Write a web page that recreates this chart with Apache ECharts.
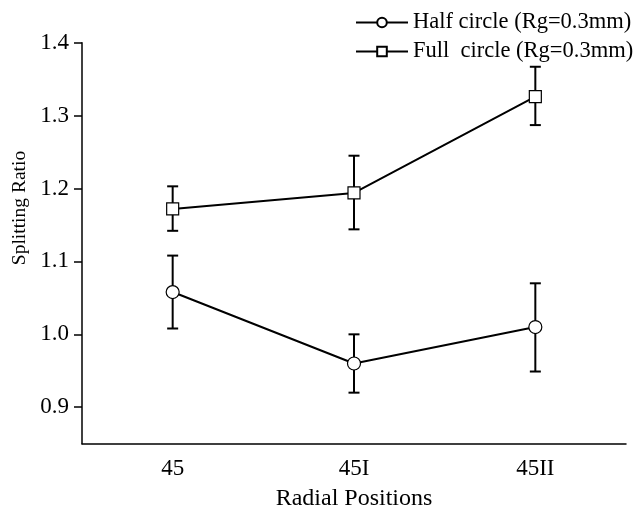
<!DOCTYPE html>
<html>
<head>
<meta charset="utf-8">
<script src="https://cdn.jsdelivr.net/npm/echarts@6/dist/echarts.min.js"></script>
<style>
  html, body { margin: 0; padding: 0; background: #fff; }
  #chart { width: 633px; height: 507px; }
</style>
</head>
<body>
<div id="chart"></div>
<script>
// Radial positions along the x axis
const categories = ['45', '45I', '45II'];

// Half circle (Rg=0.3mm): mean splitting ratio and error-bar bounds
const halfMean = [1.058, 0.960, 1.010];
const halfLow  = [1.008, 0.920, 0.949];
const halfHigh = [1.108, 1.000, 1.070];

// Full circle (Rg=0.3mm): mean splitting ratio and error-bar bounds
const fullMean = [1.172, 1.194, 1.326];
const fullLow  = [1.142, 1.144, 1.287];
const fullHigh = [1.203, 1.245, 1.367];

// Y-axis tick labels
const yTicks = [0.9, 1.0, 1.1, 1.2, 1.3, 1.4];

const FONT = '"Liberation Serif", "Times New Roman", serif';

function errorData(low, high) {
  return categories.map((c, i) => [i, low[i], high[i]]);
}

// Vertical whisker with horizontal caps
function renderErrorBar(params, api) {
  const x = api.value(0);
  const top = api.coord([x, api.value(2)]);
  const bot = api.coord([x, api.value(1)]);
  const half = 5.5;
  const style = { stroke: '#000', lineWidth: 2 };
  return {
    type: 'group',
    children: [
      { type: 'line', shape: { x1: top[0], y1: top[1], x2: bot[0], y2: bot[1] }, style },
      { type: 'line', shape: { x1: top[0] - half, y1: top[1], x2: top[0] + half, y2: top[1] }, style },
      { type: 'line', shape: { x1: bot[0] - half, y1: bot[1], x2: bot[0] + half, y2: bot[1] }, style }
    ]
  };
}

const chart = echarts.init(document.getElementById('chart'), null, { renderer: 'canvas' });

chart.setOption({
  animation: false,
  backgroundColor: '#fff',
  textStyle: { fontFamily: FONT, color: '#000' },
  grid: {
    left: 82, right: 7, top: 42.7, bottom: 63.3,
    containLabel: false,
    outerBoundsMode: 'none'
  },
  legend: {
    orient: 'vertical',
    left: 355,
    top: 11,
    padding: 0,
    itemWidth: 52,
    itemHeight: 12,
    itemGap: 6,
    data: ['Half circle (Rg=0.3mm)', 'Full  circle (Rg=0.3mm)'],
    textStyle: { fontFamily: FONT, fontSize: 22.5, color: '#000' }
  },
  xAxis: {
    type: 'category',
    data: categories,
    boundaryGap: true,
    name: 'Radial Positions',
    nameLocation: 'middle',
    nameGap: 43,
    nameTextStyle: { fontFamily: FONT, fontSize: 24, color: '#000' },
    axisLine: { lineStyle: { color: '#000', width: 1.5 } },
    axisTick: { alignWithLabel: true, length: 8, lineStyle: { color: '#000', width: 1.5 } },
    axisLabel: { margin: 14, fontFamily: FONT, fontSize: 23, color: '#000' },
    splitLine: { show: false }
  },
  yAxis: {
    type: 'value',
    min: 0.85,
    max: 1.4,
    axisLine: { show: true, lineStyle: { color: '#000', width: 1.5 } },
    axisTick: { show: true, length: 8, customValues: yTicks, lineStyle: { color: '#000', width: 1.5 } },
    axisLabel: {
      margin: 13,
      fontFamily: FONT,
      fontSize: 23,
      color: '#000',
      customValues: yTicks,
      formatter: v => v.toFixed(1)
    },
    splitLine: { show: false }
  },
  graphic: [{
    type: 'text',
    x: 20,
    y: 208,
    rotation: Math.PI / 2,
    style: {
      text: 'Splitting Ratio',
      x: 0,
      y: 0,
      fontFamily: FONT,
      fontSize: 19.5,
      fill: '#000',
      align: 'center',
      verticalAlign: 'middle'
    }
  }],
  series: [
    {
      type: 'custom',
      name: 'halfErr',
      renderItem: renderErrorBar,
      data: errorData(halfLow, halfHigh),
      encode: { x: 0, y: [1, 2] },
      z: 1,
      silent: true
    },
    {
      type: 'custom',
      name: 'fullErr',
      renderItem: renderErrorBar,
      data: errorData(fullLow, fullHigh),
      encode: { x: 0, y: [1, 2] },
      z: 1,
      silent: true
    },
    {
      type: 'line',
      name: 'Half circle (Rg=0.3mm)',
      data: halfMean,
      symbol: 'circle',
      symbolSize: 13,
      lineStyle: { color: '#000', width: 2 },
      itemStyle: { color: '#fff', borderColor: '#000', borderWidth: 1.2 },
      z: 3
    },
    {
      type: 'line',
      name: 'Full  circle (Rg=0.3mm)',
      data: fullMean,
      symbol: 'rect',
      symbolSize: 12,
      lineStyle: { color: '#000', width: 2 },
      itemStyle: { color: '#fff', borderColor: '#000', borderWidth: 1.2 },
      z: 3
    }
  ]
});
</script>
</body>
</html>
